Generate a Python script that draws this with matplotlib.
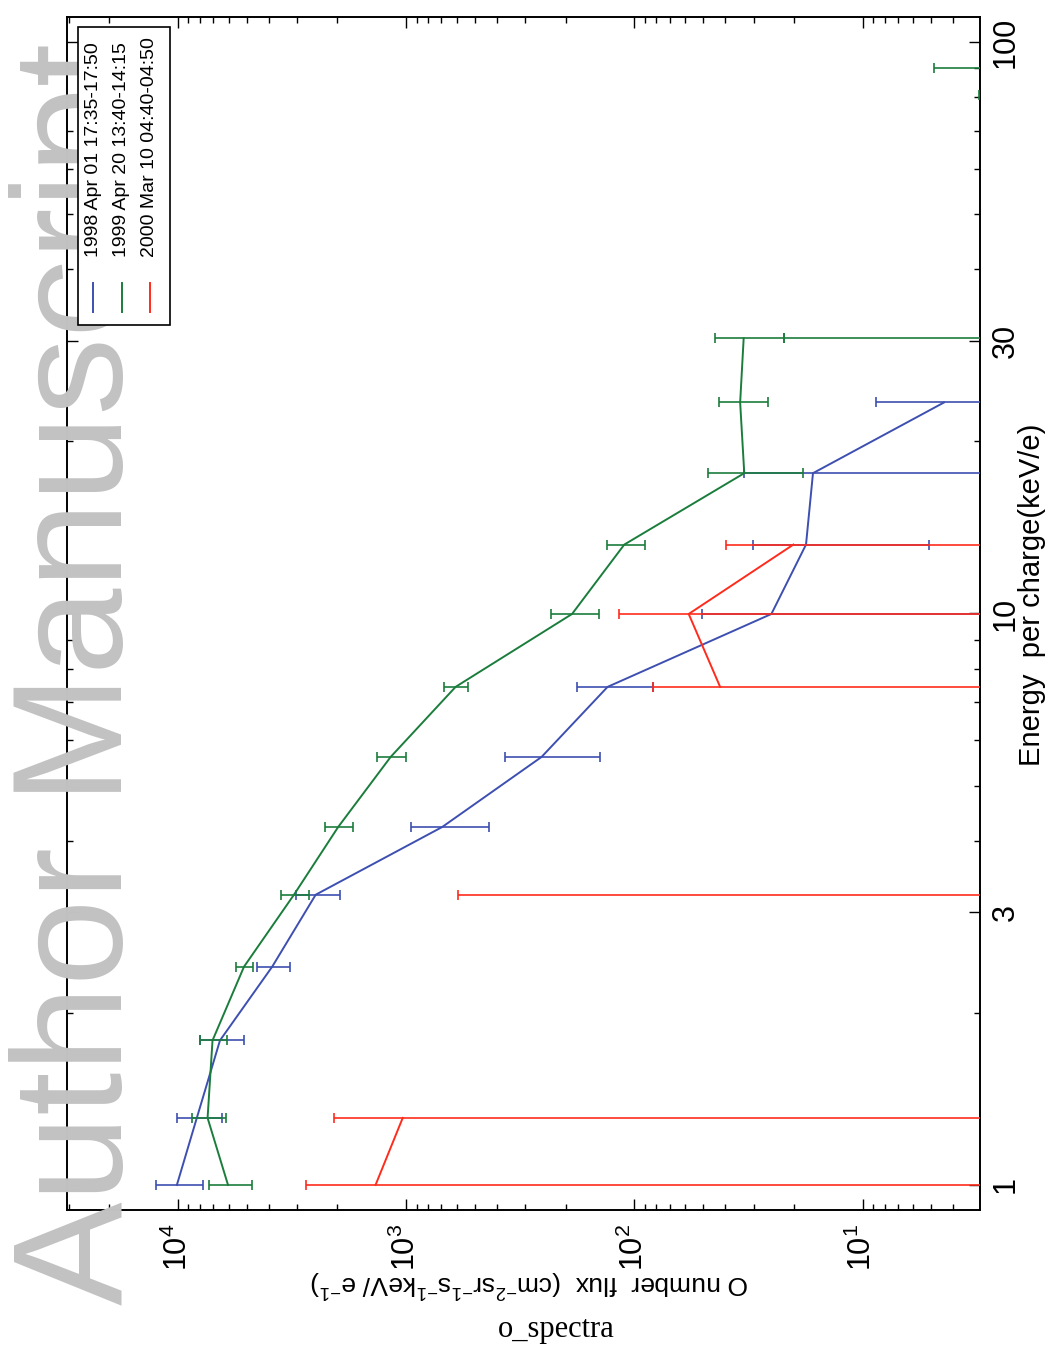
import numpy as np
import matplotlib
matplotlib.use("Agg")
import matplotlib.pyplot as plt
from matplotlib.ticker import FixedLocator, FixedFormatter, LogLocator, NullFormatter
from matplotlib.patches import Rectangle
from matplotlib.lines import Line2D

plt.rcParams['font.family'] = ['Liberation Sans', 'DejaVu Sans']
plt.rcParams['mathtext.fontset'] = 'custom'
plt.rcParams['mathtext.rm'] = 'Liberation Sans'
plt.rcParams['mathtext.it'] = 'Liberation Sans:italic'
plt.rcParams['mathtext.bf'] = 'Liberation Sans:bold'

# Energy-per-charge bins (keV/e)
energy = [1.0, 1.31, 1.79, 2.41, 3.22, 4.23, 5.61, 7.44, 9.98, 13.2, 17.6, 23.4, 30.3, 30.4, 80.7, 90.2]

# O number flux and 1-sigma errors for each event (0 = no counts)
flux_1998 = [10100, 8260, 6540, 3860, 2490, 695, 255, 131, 25.1, 17.7, 16.5, 4.40, 0, 0, 0, 0]
err_1998 = [2370, 1860, 1420, 630, 545, 260, 113, 48, 25.2, 12.6, 16.6, 4.3, 0, 0, 0, 0]

flux_1999 = [6030, 7410, 7050, 5130, 3100, 1985, 1169, 607, 187.5, 110.7, 33.0, 34.4, 33.2, 0, 0, 0]
err_1999 = [1280, 1260, 960, 450, 430, 280, 170, 72, 45, 21, 14.7, 8.3, 11, 22.1, 3.09, 4.86]

flux_2000 = [1361, 1035, 0, 0, 0, 0, 0, 42.1, 57.8, 20.1, 0, 0, 0, 0, 0, 0]
err_2000 = [1374, 1040, 0, 0, 595, 0, 0, 40.4, 58.6, 19.6, 0, 0, 0, 0, 0, 0]

labels = ['1998 Apr 01 17:35-17:50', '1999 Apr 20 13:40-14:15', '2000 Mar 10 04:40-04:50']
colors = ['#3d4fb0', '#1b7d3c', '#ff2b1c']

energy_ticks = [1, 3, 10, 30, 100]
energy_ticklabels = ['1', '3', '10', '30', '100']

W, H = 1051, 1353
fig = plt.figure(figsize=(W / 100, H / 100), dpi=100)


def fx(px):
    return px / W


def fy(py):
    return 1 - py / H


# Watermark
fig.text(fx(122), fy(1305), 'Author Manuscript', rotation=90, rotation_mode='anchor',
         ha='left', va='baseline', fontsize=112, color='#c2c2c2', zorder=0)

ax = fig.add_axes([fx(67), fy(1210), fx(980) - fx(67), fy(17) - fy(1210)])
ax.patch.set_alpha(0)

ax.set_xscale('log')
ax.set_yscale('log')
ax.set_xlim(3.06e4, 3.06)
ax.set_ylim(0.904, 110.6)


def draw_series(E, f, e, color):
    E = np.asarray(E, float)
    f = np.asarray(f, float)
    e = np.asarray(e, float)
    ax.plot(np.where(f > 0, f, np.nan), E, color=color, lw=1.4, zorder=3)
    has = e > 0
    lo = f - e
    hi = f + e
    lo_draw = np.where(lo > 0, lo, 1e-3)
    ax.hlines(E[has], lo_draw[has], hi[has], color=color, lw=1.2, zorder=3)
    ax.plot(hi[has], E[has], ls='none', marker='|', ms=7, mew=1.2, color=color, zorder=3)
    m = has & (lo > 0)
    ax.plot(lo[m], E[m], ls='none', marker='|', ms=7, mew=1.2, color=color, zorder=3)


draw_series(energy, flux_1998, err_1998, colors[0])
draw_series(energy, flux_1999, err_1999, colors[1])
draw_series(energy, flux_2000, err_2000, colors[2])

# Axes styling
for s in ax.spines.values():
    s.set_linewidth(1.4)
ax.yaxis.set_major_locator(FixedLocator(energy_ticks))
ax.yaxis.set_major_formatter(FixedFormatter(energy_ticklabels))
ax.yaxis.set_minor_locator(LogLocator(base=10, subs=np.arange(2, 10)))
ax.yaxis.set_minor_formatter(NullFormatter())
ax.xaxis.set_major_locator(LogLocator(base=10))
ax.xaxis.set_minor_locator(LogLocator(base=10, subs=np.arange(2, 10)))
ax.xaxis.set_minor_formatter(NullFormatter())

ax.tick_params(axis='both', which='both', direction='in', top=True, bottom=True,
               left=True, right=True, width=1.0)
ax.tick_params(axis='both', which='major', length=8)
ax.tick_params(axis='both', which='minor', length=4)
ax.tick_params(axis='x', labelrotation=90, labelsize=22, pad=10)
ax.tick_params(axis='y', labelleft=False, labelright=True, labelrotation=90, labelsize=22, pad=8)
for t in ax.get_yticklabels():
    t.set_va('center')

ax.set_xlabel('O number  flux  (cm$^{-2}$sr$^{-1}$s$^{-1}$keV/ e$^{-1}$)', fontsize=19,
              rotation=180, ha='center', va='center')
ax.xaxis.set_label_coords(0.507, -0.0612)
ax.yaxis.set_label_position('right')
ax.set_ylabel('Energy  per charge(keV/e)', fontsize=21, rotation=90, ha='center', va='center')
ax.yaxis.set_label_coords(1.057, 0.5155)

# Legend box drawn in figure coordinates
fig.patches.append(Rectangle((fx(78), fy(325)), fx(170) - fx(78), fy(27) - fy(325),
                             transform=fig.transFigure, fill=True, facecolor='white',
                             edgecolor='black', lw=1.2, zorder=5))
for xc, lab, col in zip([93, 122, 150], labels, colors):
    fig.lines.append(Line2D([fx(xc), fx(xc)], [fy(312), fy(283)], transform=fig.transFigure,
                            color=col, lw=1.4, zorder=6))
    fig.text(fx(xc), fy(257), lab, rotation=90, rotation_mode='anchor', ha='left',
             va='center', fontsize=14, zorder=6)

fig.text(fx(556), fy(1330), 'o_spectra', family=['Liberation Serif', 'DejaVu Serif'],
         fontsize=22, ha='center', va='center')

fig.savefig('out.png', dpi=100)
